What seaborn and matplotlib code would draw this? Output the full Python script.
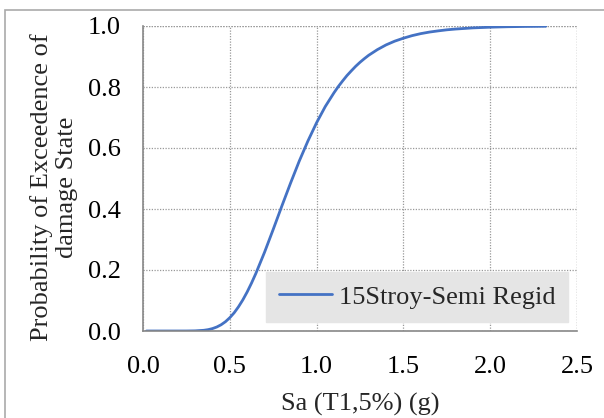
import matplotlib
matplotlib.use("Agg")
import matplotlib.pyplot as plt
import seaborn as sns
import pandas as pd
from matplotlib.patches import Rectangle

# Values
sa = [0.02, 0.10, 0.20, 0.25, 0.30, 0.35, 0.375, 0.40, 0.425, 0.45, 0.475, 0.50,
      0.525, 0.55, 0.575, 0.60, 0.625, 0.65, 0.70, 0.75, 0.80, 0.85, 0.90, 0.95,
      1.00, 1.05, 1.10, 1.125, 1.15, 1.175, 1.20, 1.225, 1.25, 1.275, 1.30,
      1.35, 1.40, 1.45, 1.50, 1.55, 1.60, 1.65, 1.70, 1.75, 1.80, 1.90, 2.00,
      2.10, 2.20, 2.32]
prob = [0.0, 0.0, 0.0, 0.00005, 0.0005, 0.0023, 0.0044, 0.0079, 0.0131, 0.0205,
        0.0305, 0.0436, 0.0597, 0.0793, 0.102, 0.128, 0.157, 0.1886, 0.258,
        0.333, 0.410, 0.485, 0.557, 0.623, 0.683, 0.736, 0.781, 0.8015, 0.820,
        0.8376, 0.853, 0.8678, 0.881, 0.8929, 0.904, 0.9225, 0.938, 0.9503,
        0.960, 0.9684, 0.975, 0.9801, 0.984, 0.9875, 0.990, 0.9938, 0.9961,
        0.9976, 0.9985, 0.9991]
series_name = "15Stroy-Semi Regid"
x_ticks = [0.0, 0.5, 1.0, 1.5, 2.0, 2.5]
y_ticks = [0.0, 0.2, 0.4, 0.6, 0.8, 1.0]

df = pd.DataFrame({"Sa": sa, "P": prob, "series": series_name})

sns.set_theme(style="white")
plt.rcParams["font.family"] = ["Liberation Serif", "DejaVu Serif"]

FS = 19

fig = plt.figure(figsize=(6.04, 4.18), dpi=100)
ax = fig.add_axes([143 / 604, 1 - 331 / 418, 434 / 604, 305 / 418])

sns.lineplot(data=df, x="Sa", y="P", hue="series", palette=["#4472C4"],
             linewidth=2.0, ax=ax)

ax.set_xlim(0, 2.5)
ax.set_ylim(0, 1.0)
ax.set_xticks(x_ticks)
ax.set_yticks(y_ticks)
ax.set_xticklabels([f"{v:.1f}" for v in x_ticks])
ax.set_yticklabels([f"{v:.1f}" for v in y_ticks])
ax.tick_params(axis="both", labelsize=FS, colors="#888888", labelcolor="black",
               length=6, width=1, direction="out")
ax.tick_params(axis="y", pad=10)
ax.tick_params(axis="x", pad=12)

grid_style = dict(linestyle=(0, (1, 1.2)), color="#999999", linewidth=0.9)
ax.grid(True, **grid_style)
for side in ["top", "right"]:
    ax.spines[side].set_visible(False)
for side in ["left", "bottom"]:
    ax.spines[side].set_color("#888888")
    ax.spines[side].set_linewidth(1.2)
ax.axhline(1.0, zorder=0, **grid_style)
ax.axvline(2.5, zorder=0, **grid_style)

ax.set_xlabel("Sa (T1,5%) (g)", fontsize=FS, labelpad=11)
ax.set_ylabel("Probability of Exceedence of\ndamage State", fontsize=FS,
              labelpad=7, linespacing=1.2)
ax.yaxis.label.set_y(0.47)

leg = ax.legend(loc="lower right", bbox_to_anchor=(0.98, 0.03), fontsize=FS,
                frameon=True, fancybox=False, handlelength=2.0,
                borderpad=0.5, handletextpad=0.25, borderaxespad=0)
leg.get_frame().set_facecolor("#e5e5e5")
leg.get_frame().set_edgecolor("#e5e5e5")
leg.get_frame().set_alpha(1.0)

# outer chart border (top and left visible)
fig.patches.append(Rectangle((5 / 604, -0.05), 1.2, 1 - 10 / 418 + 0.05,
                             transform=fig.transFigure, fill=False,
                             edgecolor="#aaaaaa", linewidth=1.2))

fig.savefig("out.png", dpi=100)
